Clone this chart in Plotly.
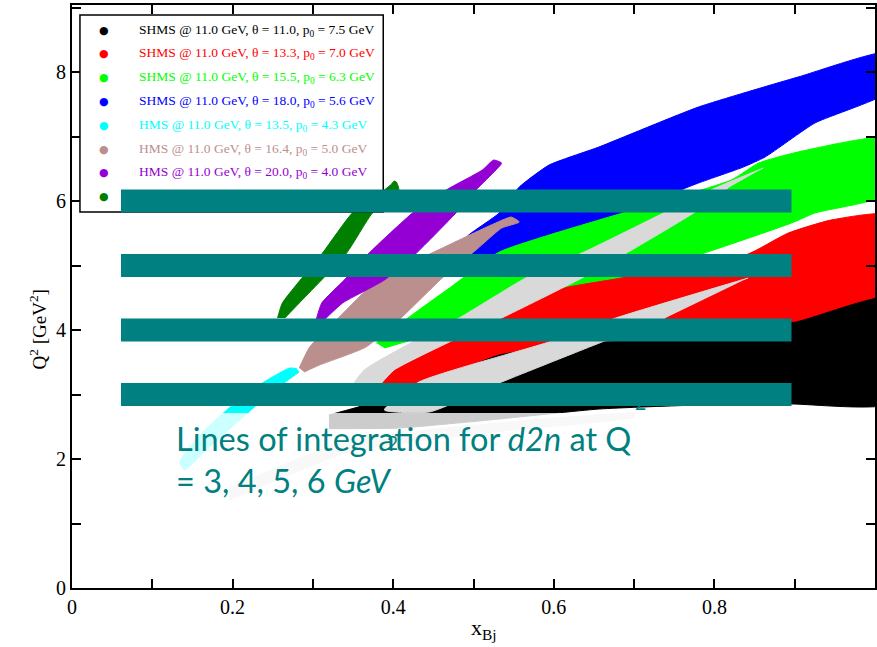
import plotly.graph_objects as go

# ---------------- data (x_Bj, Q^2 [GeV^2]) ----------------
# SHMS @ 11 GeV acceptance outlines
shms_18_0_x = [0.463, 0.494, 0.532, 0.557, 0.594, 0.656, 0.780, 0.904, 1.02,
               1.02, 0.925, 0.863, 0.836, 0.780, 0.656, 0.532, 0.482]
shms_18_0_y = [5.054, 5.473, 5.814, 6.217, 6.558, 6.837, 7.457, 7.922, 8.31,
               7.72, 7.209, 6.682, 6.527, 6.279, 5.674, 5.194, 5.054]

shms_15_5_x = [0.379, 0.420, 0.470, 0.532, 0.594, 0.656, 0.821, 0.855, 0.904, 1.02,
               1.02, 0.925, 0.896, 0.780, 0.656, 0.535, 0.445, 0.389]
shms_15_5_y = [3.798, 4.202, 4.651, 5.209, 5.473, 5.705, 6.326, 6.589, 6.760, 6.977,
               6.124, 5.814, 5.659, 5.163, 4.698, 4.186, 3.922, 3.721]

shms_13_3_x = [0.374, 0.470, 0.535, 0.602, 0.684, 0.839, 0.892, 0.945, 1.02,
               1.02, 0.901, 0.780, 0.656, 0.532, 0.432, 0.374]
shms_13_3_y = [3.209, 3.814, 4.186, 4.620, 4.806, 5.163, 5.504, 5.705, 5.783,
               4.40, 4.00, 3.80, 3.60, 3.20, 3.00, 3.147]

shms_11_0_x = [0.320, 0.374, 0.432, 0.532, 0.656, 0.780, 0.901, 1.02,
               1.02, 0.896, 0.780, 0.656, 0.532, 0.407, 0.320]
shms_11_0_y = [2.682, 2.868, 3.101, 3.612, 3.798, 3.953, 4.124, 4.50,
               2.868, 2.853, 2.837, 2.775, 2.620, 2.480, 2.470]

# HMS @ 11 GeV acceptance outlines
hms_13_5_x = [0.280, 0.271, 0.233, 0.200, 0.159, 0.134,
              0.140, 0.171, 0.230, 0.264, 0.283]
hms_13_5_y = [3.400, 3.411, 3.147, 2.837, 2.372, 1.953,
              1.829, 2.186, 2.837, 3.178, 3.349]

hms_16_4_x = [0.283, 0.296, 0.333, 0.376, 0.407, 0.448, 0.490, 0.522, 0.547,
              0.557, 0.535, 0.503, 0.461, 0.411, 0.366, 0.308, 0.289]
hms_16_4_y = [3.411, 3.736, 4.202, 4.729, 4.961, 5.194, 5.442, 5.628, 5.752,
              5.674, 5.581, 5.240, 4.806, 4.202, 3.736, 3.457, 3.349]

hms_20_0_x = [0.304, 0.311, 0.339, 0.370, 0.424, 0.466, 0.511, 0.525,
              0.535, 0.528, 0.503, 0.478, 0.429, 0.389, 0.337, 0.314]
hms_20_0_y = [4.155, 4.419, 4.775, 5.194, 5.814, 6.171, 6.481, 6.636,
              6.589, 6.481, 6.171, 5.814, 5.194, 4.775, 4.419, 4.155]

extra_x = [0.256, 0.262, 0.312, 0.349, 0.389, 0.398, 0.401,
           0.404, 0.407, 0.374, 0.342, 0.283, 0.265]
extra_y = [4.186, 4.419, 5.194, 5.814, 6.171, 6.264, 6.310,
           6.295, 6.171, 5.814, 5.194, 4.419, 4.186]

# light grey settings drawn through the SHMS bands
grey_a_x = [0.861, 0.801, 0.739, 0.643, 0.565, 0.482, 0.424, 0.364, 0.345,
            0.370, 0.401, 0.470, 0.535, 0.635, 0.697, 0.776, 0.817]
grey_a_y = [6.512, 6.202, 5.829, 5.240, 4.806, 4.186, 3.814, 3.380, 3.039,
            2.990, 3.380, 3.814, 4.186, 4.806, 5.240, 5.829, 6.202]

grey_c_x = [0.842, 0.677, 0.594, 0.432, 0.389, 0.445, 0.535, 0.660, 0.739]
grey_c_y = [4.806, 4.186, 3.814, 3.194, 2.760, 2.729, 3.194, 3.814, 4.186]

grey_d_x = [0.196, 0.345, 0.532, 0.700, 0.700, 0.532, 0.345, 0.196]
grey_d_y = [1.550, 2.295, 2.560, 2.700, 2.650, 2.430, 2.109, 1.364]

# lines of integration
q2_lines = [3, 4, 5, 6]
line_x_start = 0.061
line_x_end = 0.896

# legend entries
legend_labels = [
    "SHMS @ 11.0 GeV, θ = 11.0, p<sub>0</sub> = 7.5 GeV",
    "SHMS @ 11.0 GeV, θ = 13.3, p<sub>0</sub> = 7.0 GeV",
    "SHMS @ 11.0 GeV, θ = 15.5, p<sub>0</sub> = 6.3 GeV",
    "SHMS @ 11.0 GeV, θ = 18.0, p<sub>0</sub> = 5.6 GeV",
    "HMS @ 11.0 GeV, θ = 13.5, p<sub>0</sub> = 4.3 GeV",
    "HMS @ 11.0 GeV, θ = 16.4, p<sub>0</sub> = 5.0 GeV",
    "HMS @ 11.0 GeV, θ = 20.0, p<sub>0</sub> = 4.0 GeV",
    "",
]
legend_colors = ["#000000", "#ff0000", "#00ff00", "#0000ff",
                 "#00ffff", "#bc8f8f", "#9400d3", "#007f00"]

x_ticks = [0, 0.2, 0.4, 0.6, 0.8, 1]
x_tick_text = ["0", "0.2", "0.4", "0.6", "0.8", "1"]
y_ticks = [0, 2, 4, 6, 8]

# ---------------- figure ----------------
TEAL = "#008080"
GREY = "#d9d9d9"
SERIF = "Times New Roman, Liberation Serif, serif"

fig = go.Figure()

bands = [
    (shms_18_0_x, shms_18_0_y, "#0000ff"),
    (shms_15_5_x, shms_15_5_y, "#00ff00"),
    (shms_13_3_x, shms_13_3_y, "#ff0000"),
    (grey_d_x, grey_d_y, GREY),
    (shms_11_0_x, shms_11_0_y, "#000000"),
    (grey_a_x, grey_a_y, GREY),
    (grey_c_x, grey_c_y, GREY),
    (hms_16_4_x, hms_16_4_y, "#bc8f8f"),
    (hms_13_5_x, hms_13_5_y, "#00ffff"),
    (hms_20_0_x, hms_20_0_y, "#9400d3"),
    (extra_x, extra_y, "#007f00"),
]
for bx, by, col in bands:
    fig.add_trace(go.Scatter(
        x=bx, y=by, mode="lines", fill="toself", fillcolor=col,
        line=dict(color=col, width=1, shape="spline", smoothing=0.5),
        hoverinfo="skip", showlegend=False))

# stray superscript partly hidden by the lowest bar
fig.add_trace(go.Scatter(
    x=[0.708], y=[2.84], mode="text", text=["2"],
    textfont=dict(family="Lato", size=20, color=TEAL),
    hoverinfo="skip", showlegend=False))

shapes = [
    # legend frame
    dict(type="rect", xref="paper", yref="paper", x0=0.0099, x1=0.3876,
         y0=0.645, y1=0.983, fillcolor="white",
         line=dict(color="black", width=1.5), layer="above"),
    # translucent text box
    dict(type="rect", xref="x", yref="y", x0=0.116, x1=0.904,
         y0=1.364, y1=2.713, fillcolor="rgba(255,255,255,0.8)",
         line=dict(width=0), layer="above"),
]
for q in q2_lines:
    shapes.append(dict(type="rect", xref="x", yref="y",
                       x0=line_x_start, x1=line_x_end,
                       y0=q - 0.178, y1=q + 0.178,
                       fillcolor=TEAL, line=dict(width=0), layer="above"))

annotations = []
for i, (lab, col) in enumerate(zip(legend_labels, legend_colors)):
    yy = 0.957 - i * 0.0408
    annotations.append(dict(xref="paper", yref="paper", x=0.0398, y=yy,
                            text="●", showarrow=False, xanchor="center",
                            yanchor="middle",
                            font=dict(size=11, color=col, family="DejaVu Sans")))
    if lab:
        annotations.append(dict(xref="paper", yref="paper", x=0.0807, y=yy,
                                text=lab, showarrow=False, xanchor="left",
                                yanchor="middle",
                                font=dict(size=13.5, color=col, family=SERIF)))

annotations += [
    dict(xref="paper", yref="paper", x=0.127, y=0.294, xanchor="left",
         yanchor="top", align="left", showarrow=False,
         text="Lines of integration for <i>d2n</i> at Q<br>= 3, 4, 5, 6 <i>GeV</i>",
         font=dict(family="Lato", size=32.5, color=TEAL)),
    dict(xref="paper", yref="paper", x=0.399, y=0.249, xanchor="center",
         yanchor="middle", showarrow=False, text="2",
         font=dict(family="Lato", size=19, color=TEAL)),
    dict(xref="paper", yref="paper", x=-0.042, y=0.444, textangle=-90,
         xanchor="center", yanchor="middle", showarrow=False,
         text="Q<sup>2</sup> [GeV<sup>2</sup>]",
         font=dict(family=SERIF, size=19, color="black")),
    dict(xref="paper", yref="paper", x=0.513, y=-0.07, xanchor="center",
         yanchor="middle", showarrow=False, text="x<sub>Bj</sub>",
         font=dict(family=SERIF, size=22, color="black")),
]

axis_common = dict(showline=True, linecolor="black", linewidth=2, mirror="ticks",
                   ticks="inside", ticklen=9, tickwidth=1.5, tickcolor="black",
                   showgrid=False, zeroline=False,
                   tickfont=dict(family=SERIF, size=20, color="black"))

fig.update_layout(
    width=877, height=647,
    margin=dict(l=72, r=0, t=5, b=59),
    paper_bgcolor="white", plot_bgcolor="white",
    font=dict(family=SERIF, color="black"),
    showlegend=False,
    shapes=shapes, annotations=annotations,
    xaxis=dict(range=[0, 1], tickvals=x_ticks, ticktext=x_tick_text,
               minor=dict(dtick=0.1, ticks="inside", ticklen=9, tickcolor="black",
                          tickwidth=1.5),
               **axis_common),
    yaxis=dict(range=[0, 9.04], tickvals=y_ticks,
               minor=dict(dtick=1, ticks="inside", ticklen=9, tickcolor="black",
                          tickwidth=1.5),
               **axis_common),
)

fig.write_html("out.html")
